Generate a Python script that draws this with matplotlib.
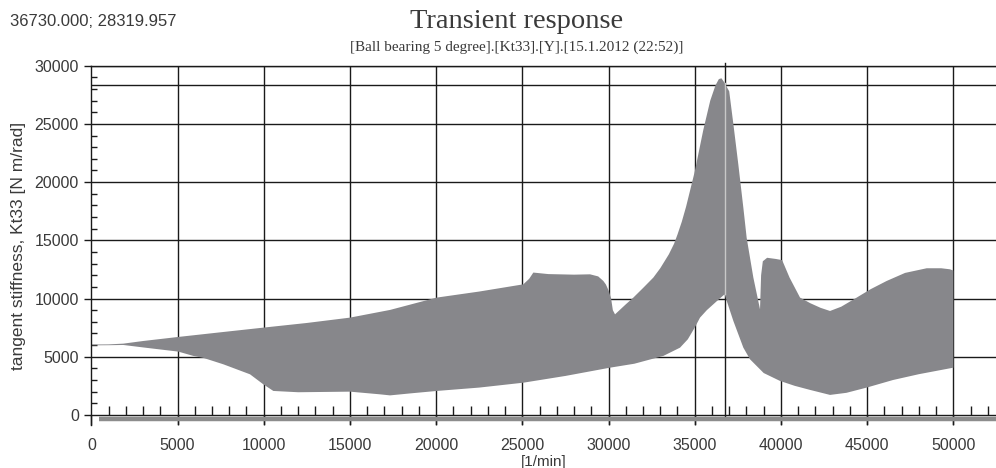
"""Transient response of the ball bearing tangent stiffness Kt33."""

import numpy as np
import matplotlib
matplotlib.use("Agg")
from matplotlib import pyplot as plt
from matplotlib.ticker import MultipleLocator

# Upper envelope of the oscillating stiffness signal [1/min, N m/rad]
upper_x = [0, 1000, 1856, 3000, 5046, 7500, 9977, 12500, 15006, 17326,
           20035, 22500, 25058, 25400, 25638, 26500, 28000, 28926, 29400,
           29698, 29850, 30000, 30150, 30250, 30377, 31000, 31439, 32000,
           32599, 33000, 33500, 33800, 34000, 34250, 34500, 35000, 35500,
           35900, 36200, 36400, 36550, 36700, 37000, 37240, 37530, 37820,
           38014, 38400, 38787, 38850, 38950, 39200, 39700, 40070, 40500,
           41108, 41700, 42300, 42848, 43500, 44395, 45200, 46135, 47200,
           48455, 49300, 49807, 50000]
upper_y = [6050, 6060, 6125, 6350, 6700, 7100, 7500, 7900, 8360, 9020,
           10080, 10600, 11220, 11700, 12230, 12100, 12050, 12080, 11900,
           11510, 11200, 10700, 10000, 9000, 8640, 9500, 10080, 10900,
           11800, 12600, 13800, 14700, 15500, 16600, 17900, 20900, 24500,
           27000, 28300, 28850, 28920, 28600, 27800, 25000, 21500, 17800,
           15200, 11800, 9070, 12000, 13200, 13500, 13400, 13300, 11800,
           10080, 9600, 9200, 8930, 9300, 10080, 10800, 11510, 12200,
           12600, 12600, 12510, 12400]

# Lower envelope of the same signal
lower_x = [0, 1000, 1856, 3000, 5046, 5917, 6500, 7657, 9205, 9977, 10557,
           12000, 15006, 16746, 17326, 18500, 20035, 22500, 25058, 27500,
           30087, 31500, 33180, 34147, 34600, 35000, 35307, 35700, 36300,
           36730, 37240, 37820, 38207, 39000, 39947, 40800, 41688, 42848,
           43800, 44975, 46500, 48000, 50000]
lower_y = [5980, 5990, 6010, 5800, 5440, 5070, 4900, 4350, 3490, 2630, 2060,
           1950, 2000, 1770, 1680, 1850, 2060, 2350, 2770, 3350,
           4060, 4400, 5070, 5780, 6500, 7500, 8360, 9000, 9800,
           10360, 8075, 5780, 4780, 3600, 2920, 2500, 2150, 1720,
           1900, 2350, 3000, 3500, 4060]

# Second (near zero) trace drawn just under the axis
base_x = [464, 52500]
base_y = [-330, -330]

# Cursor readout
cursor_x = 36730.000
cursor_y = 28319.957

x_ticks = [0, 5000, 10000, 15000, 20000, 25000, 30000, 35000, 40000, 45000, 50000]
y_ticks = [0, 5000, 10000, 15000, 20000, 25000, 30000]

FILL = "#87878b"
INK = "#1a1a1a"
TXT = "#3a3a3a"

plt.rcParams["font.family"] = ["Liberation Sans", "DejaVu Sans"]

fig = plt.figure(figsize=(9.96, 4.68), dpi=100)
ax = fig.add_axes([0.0917, 0.091, 0.9083, 0.7686])

# Envelope polygon: upper edge left to right, lower edge back again
poly_x = list(upper_x) + list(lower_x[::-1])
poly_y = list(upper_y) + list(lower_y[::-1])
ax.fill(poly_x, poly_y, color=FILL, lw=0, zorder=3)
ax.plot(base_x, base_y, color="#8d8d8d", lw=3.2, solid_capstyle="butt", zorder=2)

# Grid drawn by hand so it stays under the signal
for gx in x_ticks[1:]:
    ax.axvline(gx, color=INK, lw=1.0, zorder=1)
for gy in y_ticks[1:]:
    ax.axhline(gy, color=INK, lw=1.0, zorder=1)

# Cursor cross: black on white, light where it crosses the signal
ax.axhline(cursor_y, color=INK, lw=1.0, zorder=1)
ax.plot([cursor_x, cursor_x], [-100, 30250], color=INK, lw=1.0,
        clip_on=False, zorder=1)
lo = np.interp(cursor_x, lower_x, lower_y)
hi = np.interp(cursor_x, upper_x, upper_y)
ax.plot([cursor_x, cursor_x], [lo, hi], color="#c8c8c8", lw=1.0, zorder=4)

ax.set_xlim(0, 52475)
ax.set_ylim(-900, 30000)

ax.spines["right"].set_visible(False)
ax.spines["bottom"].set_position(("data", 0))
for s in ("left", "bottom", "top"):
    ax.spines[s].set_color(INK)
    ax.spines[s].set_linewidth(1.0)
    ax.spines[s].set_zorder(5)

ax.set_xticks(x_ticks)
ax.set_yticks(y_ticks)
ax.xaxis.set_minor_locator(MultipleLocator(1000))
ax.yaxis.set_minor_locator(MultipleLocator(1000))
ax.tick_params(axis="x", which="major", direction="out", length=7.5, width=1.0,
               color=INK, labelsize=11.5, labelcolor=TXT, pad=9)
ax.tick_params(axis="x", which="minor", direction="in", length=6.5, width=1.0,
               color=INK)
ax.tick_params(axis="y", which="major", direction="out", length=5, width=1.0,
               color=INK, labelsize=11.5, labelcolor=TXT, pad=4)
ax.tick_params(axis="y", which="minor", direction="in", length=4.5, width=1.0,
               color=INK)

ax.set_ylabel("tangent stiffness, Kt33 [N m/rad]", fontsize=12.5, color=TXT,
              labelpad=6)
fig.text(0.546, 0.0128, "[1/min]", fontsize=11, color=TXT, ha="center",
         va="center")

fig.text(0.010, 0.955, "%.3f; %.3f" % (cursor_x, cursor_y), fontsize=12,
         color=TXT, va="center")
fig.text(0.519, 0.953, "Transient response", fontsize=20.5, color=TXT,
         ha="center", va="center", family="Liberation Serif")
fig.text(0.519, 0.899, "[Ball bearing 5 degree].[Kt33].[Y].[15.1.2012 (22:52)]",
         fontsize=11, color=TXT, ha="center", va="center",
         family="Liberation Serif")

plt.savefig("out.png", dpi=100)
